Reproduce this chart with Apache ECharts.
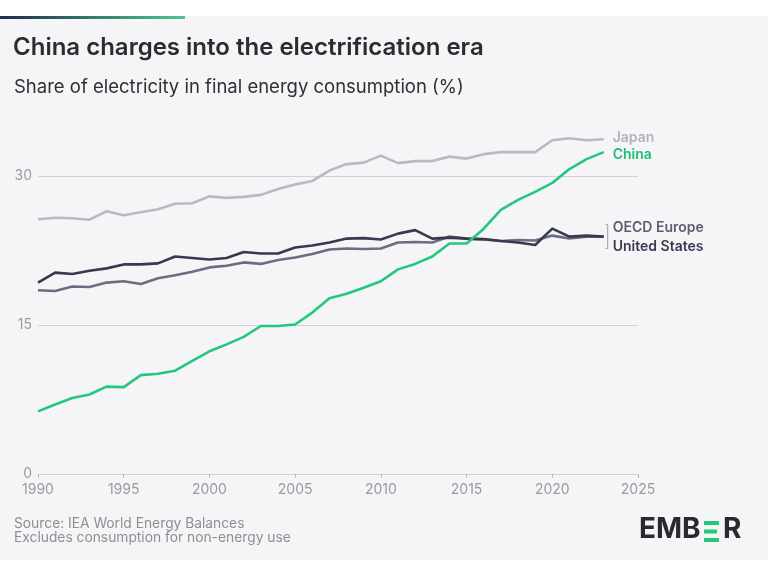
<!DOCTYPE html>
<html>
<head>
<meta charset="utf-8">
<script src="https://cdn.jsdelivr.net/npm/echarts@6/dist/echarts.min.js"></script>
<style>
  html, body { margin: 0; padding: 0; background: #fff; }
  #main { width: 768px; height: 576px; }
</style>
</head>
<body>
<div id="main"></div>
<script>
// share of electricity in final energy consumption (%), 1990-2023
const years = [1990, 1991, 1992, 1993, 1994, 1995, 1996, 1997, 1998, 1999,
  2000, 2001, 2002, 2003, 2004, 2005, 2006, 2007, 2008, 2009,
  2010, 2011, 2012, 2013, 2014, 2015, 2016, 2017, 2018, 2019,
  2020, 2021, 2022, 2023]
const japan = [25.65, 25.8, 25.75, 25.6, 26.45, 26.05, 26.35, 26.65, 27.2, 27.25,
  27.95, 27.8, 27.9, 28.1, 28.7, 29.15, 29.5, 30.55, 31.2, 31.35,
  32.05, 31.3, 31.5, 31.5, 31.95, 31.75, 32.2, 32.4, 32.4, 32.4,
  33.6, 33.8, 33.6, 33.7]
const china = [6.3, 7.0, 7.65, 8.0, 8.8, 8.75, 9.95, 10.1, 10.4, 11.4,
  12.35, 13.05, 13.8, 14.9, 14.9, 15.05, 16.25, 17.7, 18.15, 18.75,
  19.4, 20.6, 21.15, 21.9, 23.2, 23.2, 24.7, 26.6, 27.6, 28.4,
  29.3, 30.7, 31.7, 32.4]
const oecdEurope = [18.5, 18.43, 18.87, 18.83, 19.27, 19.4, 19.13, 19.7, 20.0, 20.37,
  20.8, 20.97, 21.3, 21.15, 21.55, 21.8, 22.15, 22.6, 22.7, 22.65,
  22.7, 23.3, 23.35, 23.3, 23.9, 23.7, 23.6, 23.45, 23.55, 23.5,
  24.0, 23.7, 23.9, 23.9]
const unitedStates = [19.27, 20.27, 20.14, 20.47, 20.7, 21.1, 21.1, 21.2, 21.9, 21.75,
  21.6, 21.75, 22.35, 22.2, 22.2, 22.8, 23.0, 23.3, 23.7, 23.75,
  23.6, 24.2, 24.55, 23.7, 23.8, 23.7, 23.65, 23.45, 23.3, 23.05,
  24.7, 23.9, 24.0, 23.9]
const yTicks = [0, 15, 30]

const font = 'Inter'

function pairs (vals) {
  return years.map((y, i) => [y, vals[i]])
}

function lineSeries (name, vals, color, labelColor, offset) {
  return {
    name: name,
    type: 'line',
    data: pairs(vals),
    clip: false,
    showSymbol: false,
    symbol: 'none',
    lineStyle: { width: 2.6, color: color, join: 'round' },
    emphasis: { disabled: true },
    endLabel: {
      show: true,
      formatter: name,
      distance: 9,
      offset: offset,
      color: labelColor,
      fontFamily: font,
      fontSize: 14,
      fontWeight: 600
    }
  }
}

let chart = echarts.init(document.getElementById('main'))

let option = {
  backgroundColor: '#f5f5f7',
  animation: false,
  grid: { left: 38, right: 130, top: 176, bottom: 102 },
  xAxis: {
    type: 'value',
    min: 1990,
    max: 2025,
    interval: 5,
    axisLine: { show: true, lineStyle: { color: '#cfcfd3', width: 1 } },
    axisTick: { show: true, length: 4, lineStyle: { color: '#bdbdc2' } },
    splitLine: { show: false },
    axisLabel: { color: '#9a9a9f', fontFamily: font, fontSize: 14, margin: 9, formatter: v => String(v) }
  },
  yAxis: {
    type: 'value',
    min: 0,
    max: 30,
    interval: 15,
    axisLine: { show: false },
    axisTick: { show: false },
    splitLine: { lineStyle: { color: '#d2d2d6', width: 1 } },
    axisLabel: {
      color: '#9a9a9f', fontFamily: font, fontSize: 14, margin: 6,
      formatter: v => yTicks.includes(v) ? String(v) : ''
    }
  },
  series: [
    lineSeries('Japan', japan, '#b8b9c4', '#b2b3be', [0, -1]),
    lineSeries('OECD Europe', oecdEurope, '#6b6e80', '#5c5f72', [0, -9]),
    lineSeries('United States', unitedStates, '#363a50', '#383b52', [0, 10]),
    lineSeries('China', china, '#22c87c', '#1fbf75', [0, 3])
  ],
  graphic: [
    { type: 'rect', shape: { x: 0, y: 0, width: 768, height: 16 }, style: { fill: '#ffffff' } },
    { type: 'rect', shape: { x: 0, y: 560, width: 768, height: 16 }, style: { fill: '#ffffff' } },
    {
      type: 'rect', shape: { x: 0, y: 16, width: 185, height: 3 },
      style: {
        fill: new echarts.graphic.LinearGradient(0, 0, 1, 0, [
          { offset: 0, color: '#1f2b4d' }, { offset: 1, color: '#4cc88d' }
        ])
      }
    },
    {
      type: 'text', left: 13, top: 36,
      style: { text: 'China charges into the electrification era', fill: '#2c2c30', font: '600 24px Inter' }
    },
    {
      type: 'text', left: 14, top: 78,
      style: { text: 'Share of electricity in final energy consumption (%)', fill: '#303034', font: '400 18.5px Inter' }
    },
    {
      type: 'text', left: 14, top: 517,
      style: { text: 'Source: IEA World Energy Balances', fill: '#8e8e93', font: '400 13.8px Inter' }
    },
    {
      type: 'text', left: 14, top: 531,
      style: { text: 'Excludes consumption for non-energy use', fill: '#8e8e93', font: '400 13.8px Inter' }
    },
    // logo
    { type: 'text', left: 639, top: 516, style: { text: 'EMB', fill: '#2a2a2e', font: '700 28px Inter' } },
    { type: 'rect', shape: { x: 704, y: 521, width: 15, height: 4 }, style: { fill: '#22c87c' } },
    { type: 'rect', shape: { x: 704, y: 529.5, width: 13, height: 4 }, style: { fill: '#22c87c' } },
    { type: 'rect', shape: { x: 704, y: 538, width: 15, height: 4 }, style: { fill: '#22c87c' } },
    { type: 'text', left: 723, top: 516, style: { text: 'R', fill: '#2a2a2e', font: '700 28px Inter' } }
  ]
}

chart.setOption(option)

// small bracket joining the two overlapping line ends to their labels
let last = years.length - 1
let endPt = chart.convertToPixel({ gridIndex: 0 }, [years[last], (oecdEurope[last] + unitedStates[last]) / 2])
let bx = endPt[0] + 4
chart.setOption({
  graphic: option.graphic.concat([
    {
      type: 'polyline',
      shape: { points: [[bx - 2, endPt[1] - 12], [bx, endPt[1] - 12], [bx, endPt[1] + 12], [bx - 2, endPt[1] + 12]] },
      style: { stroke: '#9c9ea8', lineWidth: 1, fill: null }
    }
  ])
})
</script>
</body>
</html>
